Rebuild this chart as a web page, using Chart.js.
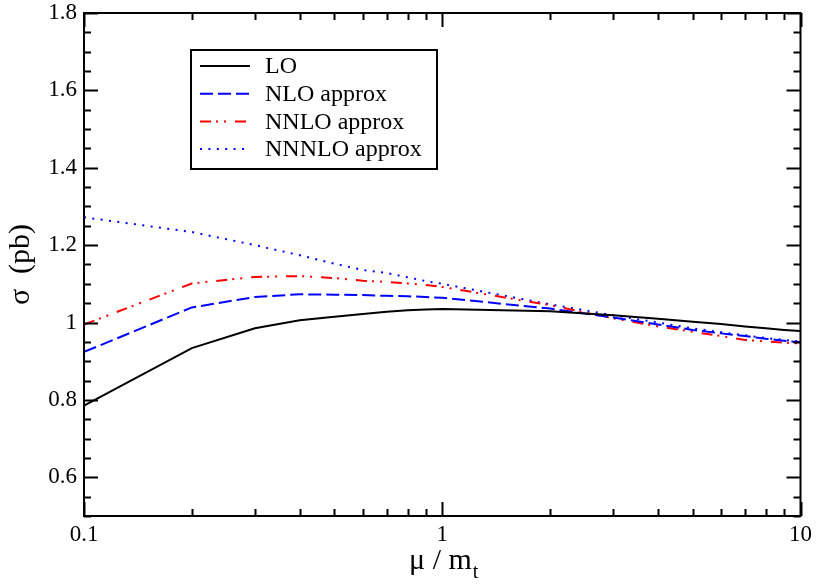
<!DOCTYPE html>
<html>
<head>
<meta charset="utf-8">
<script src="https://cdn.jsdelivr.net/npm/chart.js@4.4.1/dist/chart.umd.min.js"></script>
<style>
  html, body { margin: 0; padding: 0; background: #fff; }
  #wrap { width: 817px; height: 585px; position: relative; }
</style>
</head>
<body>
<div id="wrap"><canvas id="xsec_chart"></canvas></div>
<script>
// scale ratio mu/m_t and cross sections (pb)
const muRatio = [0.1, 0.2, 0.3, 0.4, 0.5, 0.6, 0.7, 0.8, 0.9, 1, 2, 3, 4, 5, 6, 7, 8, 9, 10];
const sigmaLO    = [0.785, 0.934, 0.985, 1.006, 1.015, 1.022, 1.028, 1.032, 1.034, 1.035, 1.029, 1.019, 1.010, 1.002, 0.996, 0.990, 0.985, 0.981, 0.978];
const sigmaNLO   = [0.924, 1.039, 1.066, 1.073, 1.072, 1.071, 1.069, 1.068, 1.066, 1.064, 1.036, 1.013, 0.995, 0.981, 0.972, 0.965, 0.958, 0.953, 0.949];
const sigmaNNLO  = [0.995, 1.101, 1.118, 1.120, 1.115, 1.108, 1.105, 1.101, 1.097, 1.092, 1.045, 1.011, 0.990, 0.976, 0.965, 0.955, 0.951, 0.948, 0.946];
const sigmaNNNLO = [1.272, 1.234, 1.200, 1.174, 1.152, 1.136, 1.128, 1.117, 1.107, 1.100, 1.047, 1.019, 1.000, 0.985, 0.975, 0.967, 0.960, 0.955, 0.951];

const seriesNames = ["LO", "NLO approx", "NNLO approx", "NNNLO approx"];
const xTicks = [0.1, 1, 10];
const yTicks = [0.6, 0.8, 1, 1.2, 1.4, 1.6, 1.8];

const serif = "'Liberation Serif', 'Times New Roman', serif";

function pts(ys) {
  return muRatio.map((x, i) => ({x: x, y: ys[i]}));
}

// frame, inward ticks, legend box and the x title with subscript
const decorations = {
  id: "decorations",
  afterDatasetsDraw(chart) {
    const ctx = chart.ctx, a = chart.chartArea;
    const xs = chart.scales.x, ys = chart.scales.y;
    ctx.save();
    ctx.strokeStyle = "#000";
    ctx.lineWidth = 2;
    ctx.setLineDash([]);
    ctx.strokeRect(a.left, a.top, a.right - a.left, a.bottom - a.top);

    ctx.beginPath();
    // y ticks every 0.05, major every 0.2
    for (let k = 10; k <= 36; k++) {
      const v = k * 0.05;
      const py = Math.round(ys.getPixelForValue(v)) + 0.5;
      const len = (k % 4 === 0) ? 14 : 7;
      ctx.moveTo(a.left, py); ctx.lineTo(a.left + len, py);
      ctx.moveTo(a.right, py); ctx.lineTo(a.right - len, py);
    }
    // x ticks on the log axis
    for (let d = 0.1; d < 10; d *= 10) {
      for (let m = 1; m <= 10; m++) {
        const v = d * m;
        const px = Math.round(xs.getPixelForValue(v)) + 0.5;
        const len = (m === 1 || m === 10) ? 14 : 7;
        ctx.moveTo(px, a.bottom); ctx.lineTo(px, a.bottom - len);
        ctx.moveTo(px, a.top); ctx.lineTo(px, a.top + len);
      }
    }
    ctx.stroke();

    // legend
    const bx = a.left + 107, by = a.top + 37, bw = 246, bh = 119;
    ctx.fillStyle = "#fff";
    ctx.fillRect(bx, by, bw, bh);
    ctx.strokeRect(bx, by, bw, bh);
    ctx.font = "24px " + serif;
    ctx.textBaseline = "middle";
    chart.data.datasets.forEach((ds, i) => {
      const ry = by + 16 + i * 27.7;
      ctx.strokeStyle = ds.borderColor;
      ctx.lineWidth = 2;
      ctx.setLineDash(ds.borderDash || []);
      ctx.beginPath();
      ctx.moveTo(bx + 9, ry); ctx.lineTo(bx + 59, ry);
      ctx.stroke();
      ctx.setLineDash([]);
      ctx.fillStyle = "#000";
      ctx.fillText(ds.label, bx + 74, ry + 1);
    });

    // x axis title: mu / m_t
    const cx = (a.left + a.right) / 2 + 1;
    const base = a.bottom + 53;
    const main = "\u03bc / m";
    ctx.font = "30px " + serif;
    const w1 = ctx.measureText(main).width;
    ctx.font = "20px " + serif;
    const w2 = ctx.measureText("t").width;
    const x0 = cx - (w1 + w2) / 2;
    ctx.textBaseline = "alphabetic";
    ctx.fillStyle = "#000";
    ctx.font = "30px " + serif;
    ctx.fillText(main, x0, base);
    ctx.font = "20px " + serif;
    ctx.fillText("t", x0 + w1 + 1, base + 9);
    ctx.restore();
  }
};

const config = {
  type: "line",
  data: {
    datasets: [
      {label: seriesNames[0], data: pts(sigmaLO), borderColor: "#000000", borderWidth: 2, borderDash: []},
      {label: seriesNames[1], data: pts(sigmaNLO), borderColor: "#0000ff", borderWidth: 2, borderDash: [13, 5]},
      {label: seriesNames[2], data: pts(sigmaNNLO), borderColor: "#ff0000", borderWidth: 2, borderDash: [11, 5, 2, 6, 2, 9]},
      {label: seriesNames[3], data: pts(sigmaNNNLO), borderColor: "#0000ff", borderWidth: 2, borderDash: [2, 6.4]}
    ]
  },
  options: {
    responsive: true,
    maintainAspectRatio: false,
    animation: false,
    layout: {padding: {left: 0, right: 16, top: 13, bottom: 0}},
    elements: {
      point: {radius: 0, hoverRadius: 0},
      line: {tension: 0, fill: false}
    },
    plugins: {
      legend: {display: false},
      tooltip: {enabled: false}
    },
    scales: {
      x: {
        type: "logarithmic",
        min: 0.1,
        max: 10,
        afterBuildTicks: (scale) => { scale.ticks = xTicks.map(v => ({value: v})); },
        afterFit: (scale) => { scale.height = 69; },
        grid: {display: false, drawTicks: false},
        border: {display: false},
        ticks: {
          padding: 5,
          color: "#000",
          font: {family: serif, size: 23},
          autoSkip: false,
          maxRotation: 0,
          callback: (v) => String(v)
        }
      },
      y: {
        type: "linear",
        min: 0.5,
        max: 1.8,
        afterBuildTicks: (scale) => { scale.ticks = yTicks.map(v => ({value: v})); },
        afterFit: (scale) => { scale.width = 84; scale.paddingTop = 0; },
        grid: {display: false, drawTicks: false},
        border: {display: false},
        title: {
          display: true,
          text: "\u03c3  (pb)",
          color: "#000",
          font: {family: serif, size: 30},
          padding: {top: 3, bottom: 0}
        },
        ticks: {
          padding: 7,
          color: "#000",
          font: {family: serif, size: 23, lineHeight: 0.9},
          callback: (v) => String(Math.round(v * 10) / 10)
        }
      }
    }
  },
  plugins: [decorations]
};

let xsec_chart = new Chart("xsec_chart", config);
</script>
</body>
</html>
